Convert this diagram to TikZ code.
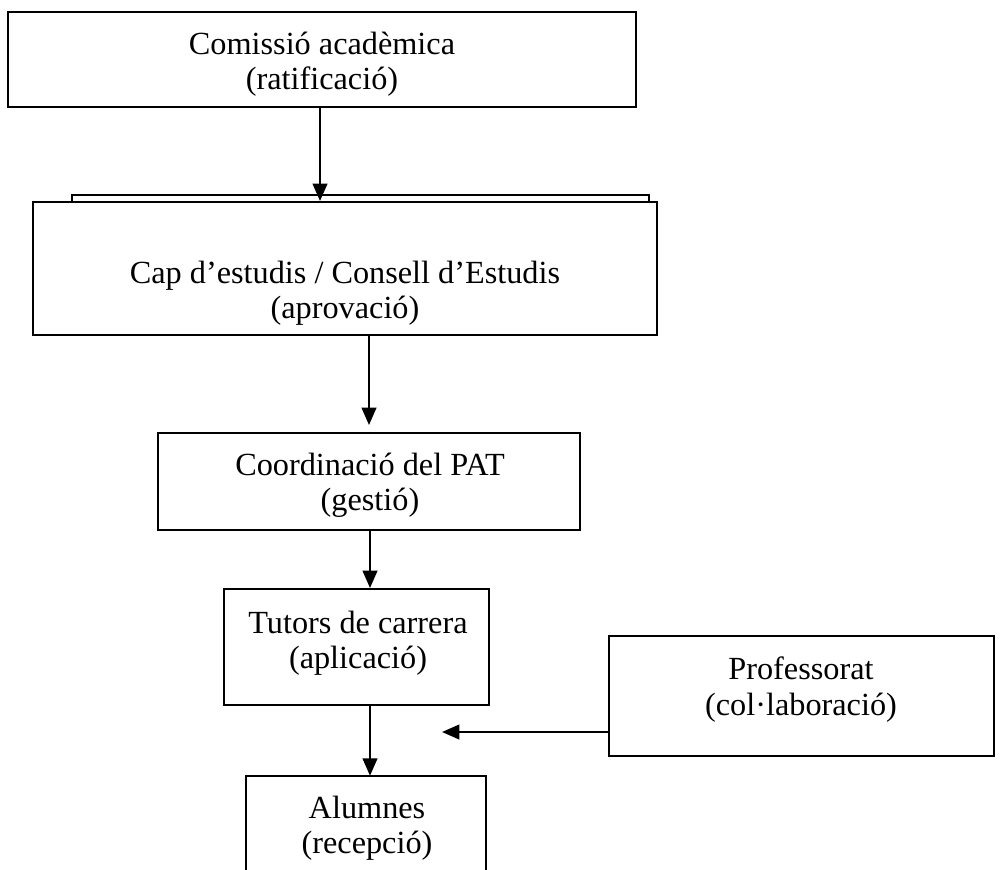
\documentclass[tikz,border=0pt]{standalone}
\usepackage{fontspec}
\setmainfont{Liberation Serif}
\usetikzlibrary{arrows.meta}
\begin{document}
\begin{tikzpicture}[x=0.75pt,y=-0.75pt,
  box/.style={draw,line width=1.5pt,rectangle,inner sep=0pt},
  txt/.style={align=center,inner sep=0pt,font=\fontsize{24.2}{26.6}\selectfont},
  arr/.style={line width=1.5pt,-{Triangle[length=13pt,width=11pt]}},
  thin/.style={line width=1.2pt}]
\useasboundingbox (0,0) rectangle (1006,869);
% boxes
\node[box,minimum width=471pt,minimum height=71.25pt] (b1) at (322,59.5) {};
\node[box,minimum width=468pt,minimum height=99.75pt] (b2) at (345,268.5) {};
\node[box,minimum width=316.5pt,minimum height=72.75pt] (b3) at (369,481.5) {};
\node[box,minimum width=198.75pt,minimum height=87pt] (b4) at (356.5,647) {};
\node[inner sep=0pt,minimum width=180pt,minimum height=78pt] (b5) at (366,828) {};
\node[box,minimum width=288.75pt,minimum height=90pt] (b6) at (801.5,696) {};
% open-bottom box for Alumnes
\draw[line width=1.5pt] (b5.south west) -- (b5.north west) -- (b5.north east) -- (b5.south east);
% thin double top of b2
\coordinate (tl) at (72,202);
\coordinate (tr) at (649,202);
\draw[thin] (tl) -- (72,195) -- (649,195) -- (tr);
% texts
\node[txt] (t1) at (322,64) {Comissió acadèmica\\(ratificació)};
\node[txt] (t2) at (345,293) {Cap d’estudis / Consell d’Estudis\\(aprovació)};
\node[txt] (t3) at (370,485) {Coordinació del PAT\\(gestió)};
\node[txt] (t4) at (358,643) {Tutors de carrera\\(aplicació)};
\node[txt] (t5) at (367,828) {Alumnes\\(recepció)};
\node[txt] (t6) at (801,689.5) {Professorat\\(col·laboració)};
% connectors
\draw[arr] (b1.south -| 320,0) -- (b2.north -| 320,0);
\draw[arr] (b2.south -| 369,0) -- (369,425);
\draw[arr] (b3.south -| 370,0) -- (b4.north -| 370,0);
\coordinate (mid) at (442,732);
\draw[arr] (b4.south -| 370,0) -- (b5.north -| 370,0);
\draw[arr] (b6.west |- mid) -- (mid);
\end{tikzpicture}
\end{document}
